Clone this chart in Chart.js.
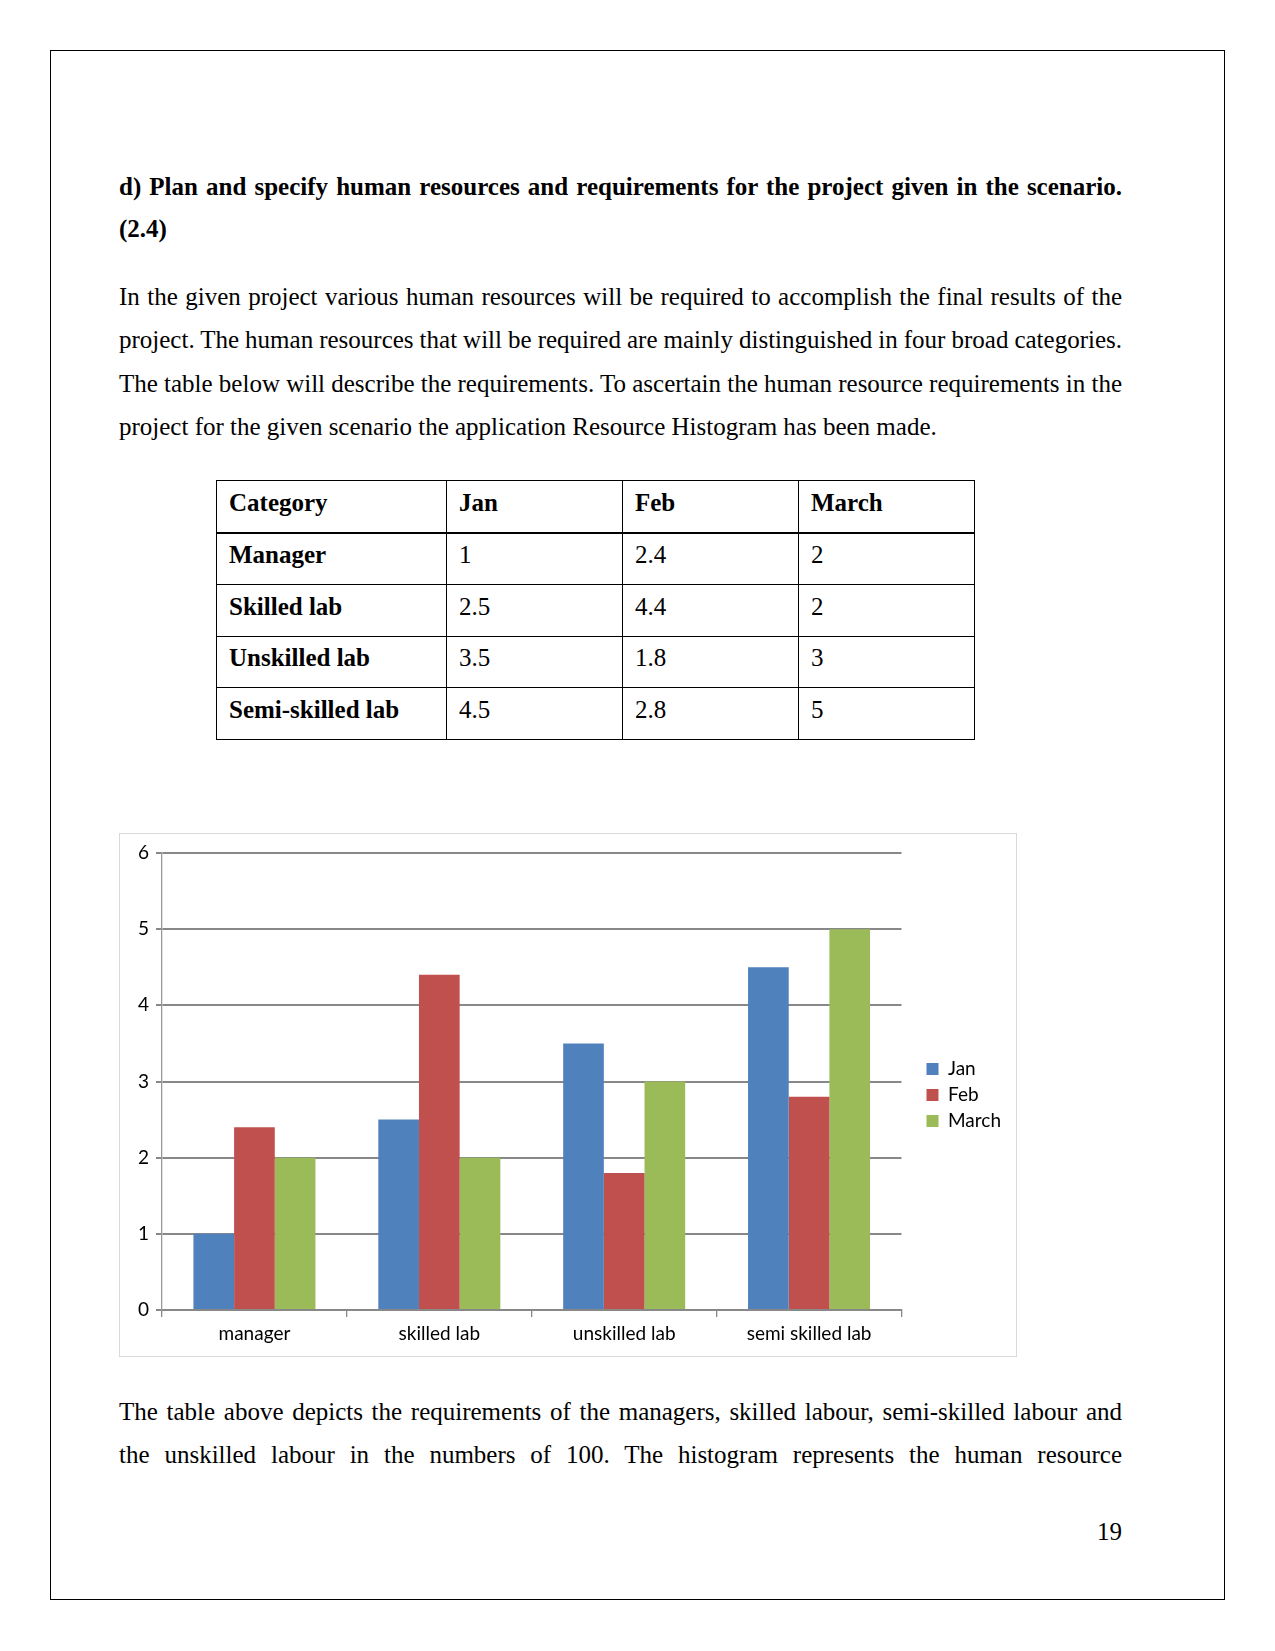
<!DOCTYPE html>
<html>
<head>
<meta charset="utf-8">
<script src="https://cdn.jsdelivr.net/npm/chart.js@4.4.1/dist/chart.umd.min.js"></script>
<style>
  body { margin: 0; background: #fff; }
  #page { position: relative; width: 1275px; height: 1651px; font-family: "Liberation Serif", "Times New Roman", serif; font-size: 25px; color: #000; }
  #frame { position: absolute; left: 50px; top: 50px; width: 1175px; height: 1550px; border: 1.5px solid #000; box-sizing: border-box; }
  .ln { position: absolute; left: 119px; width: 1003px; height: 43px; line-height: 43px; white-space: nowrap; }
  .j { text-align: justify; text-align-last: justify; white-space: normal; word-spacing: -2px; }
  .b { font-weight: bold; }
  #tbl { position: absolute; left: 216px; top: 480px; border-collapse: collapse; font-size: 25px; }
  #tbl td { border: 1.3px solid #000; padding: 0 0 7px 12px; height: 43.5px; vertical-align: middle; }
  #tbl tr:first-child td { border-bottom: 2.6px solid #000; }
  #chartFrame { position: absolute; left: 119px; top: 833px; width: 898px; height: 524px; border: 1.5px solid #d9d9d9; box-sizing: border-box; }
  #chartBox { position: absolute; left: 119px; top: 833px; width: 898px; height: 524px; }
</style>
</head>
<body>
<div id="page">
  <div id="frame"></div>
  <div class="ln j b" style="top:165px">d) Plan and specify human resources and requirements for the project given in the scenario.</div>
  <div class="ln b" style="top:207px">(2.4)</div>
  <div class="ln j" style="top:275px">In the given project various human resources will be required to accomplish the final results of the</div>
  <div class="ln j" style="top:318px">project. The human resources that will be required are mainly distinguished in four broad categories.</div>
  <div class="ln j" style="top:362px">The table below will describe the requirements. To ascertain the human resource requirements in the</div>
  <div class="ln" style="top:405px">project for the given scenario the application Resource Histogram has been made.</div>

  <table id="tbl"></table>

  <div id="chartFrame"></div>
  <div id="chartBox"><canvas id="myChartBar"></canvas></div>

  <div class="ln j" style="top:1390px">The table above depicts the requirements of the managers, skilled labour, semi-skilled labour and</div>
  <div class="ln j" style="top:1433px">the unskilled labour in the numbers of 100. The histogram represents the human resource</div>
  <div class="ln" style="top:1510px; text-align:right">19</div>
</div>

<script>
  // DADOS
  const categories = ["manager", "skilled lab", "unskilled lab", "semi skilled lab"];
  const tableRows = ["Manager", "Skilled lab", "Unskilled lab", "Semi-skilled lab"];
  const months = ["Jan", "Feb", "March"];
  const jan = [1, 2.5, 3.5, 4.5];
  const feb = [2.4, 4.4, 1.8, 2.8];
  const march = [2, 2, 3, 5];
  const yTicks = [0, 1, 2, 3, 4, 5, 6];
  const colors = ["#4f81bd", "#c0504d", "#9bbb59"];

  // TABELA
  const tbl = document.getElementById("tbl");
  const colW = [230, 176, 176, 176];
  let html = "<tr>" + ["Category"].concat(months).map((t, i) =>
    '<td class="b" style="width:' + (colW[i] - 13) + 'px">' + t + "</td>").join("") + "</tr>";
  tableRows.forEach((name, r) => {
    html += '<tr><td class="b">' + name + "</td><td>" + jan[r] + "</td><td>" + feb[r] + "</td><td>" + march[r] + "</td></tr>";
  });
  tbl.innerHTML = html;

  // GRÁFICO
  const gridColor = "#888888";
  const tickFont = { family: "Lato", size: 19 };

  const config_bar = {
    type: "bar",
    data: {
      labels: categories,
      datasets: [
        { label: months[0], data: jan, backgroundColor: colors[0] },
        { label: months[1], data: feb, backgroundColor: colors[1] },
        { label: months[2], data: march, backgroundColor: colors[2] }
      ]
    },
    options: {
      responsive: true,
      maintainAspectRatio: false,
      animation: false,
      layout: { padding: { top: 0, right: 6, bottom: 0, left: 0 } },
      datasets: { bar: { categoryPercentage: 0.66, barPercentage: 1.0 } },
      plugins: {
        tooltip: { enabled: false },
        legend: {
          position: "right",
          labels: { boxWidth: 12, boxHeight: 12, padding: 7, color: "#000", font: tickFont }
        }
      },
      scales: {
        x: {
          position: "bottom",
          grid: { drawOnChartArea: false, drawTicks: true, tickLength: 7, color: gridColor, lineWidth: 1.3 },
          border: { color: gridColor, width: 2 },
          ticks: { color: "#000", font: tickFont, padding: 5, maxRotation: 0 },
          afterFit: (s) => { s.height = 47; }
        },
        xTop: {
          type: "category",
          position: "top",
          grid: { display: false },
          border: { display: false },
          ticks: { display: false },
          afterFit: (s) => { s.height = 20; }
        },
        y: {
          min: 0,
          max: 6,
          afterBuildTicks: (s) => { s.ticks = yTicks.map(v => ({ value: v })); },
          grid: { color: gridColor, lineWidth: 2, tickLength: 6 },
          border: { color: "#999999", width: 1.3 },
          ticks: { color: "#000", font: tickFont, padding: 7 },
          afterFit: (s) => { s.width = 43; }
        },
        yRight: {
          position: "right",
          grid: { display: false },
          border: { display: false },
          ticks: { display: false },
          afterFit: (s) => { s.width = 18; }
        }
      }
    }
  };

  var myChartBar = new Chart(document.getElementById("myChartBar"), config_bar);
</script>
</body>
</html>
